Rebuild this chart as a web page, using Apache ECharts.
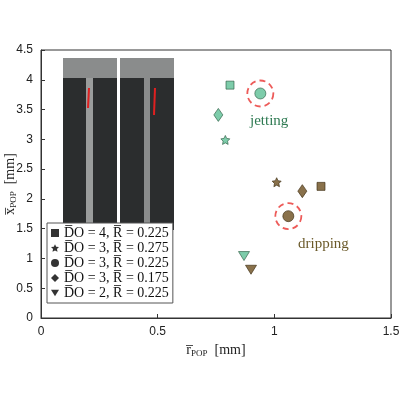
<!DOCTYPE html>
<html><head><meta charset="utf-8">
<script src="https://cdn.jsdelivr.net/npm/echarts@6/dist/echarts.min.js"></script>
<style>html,body{margin:0;background:#fff}#c{width:400px;height:400px}</style>
</head><body><div id="c"></div>
<script>
const seriesNames = ['D̅O = 4, R̅ = 0.225','D̅O = 3, R̅ = 0.275','D̅O = 3, R̅ = 0.225','D̅O = 3, R̅ = 0.175','D̅O = 2, R̅ = 0.225'];
const symbols = ['rect','path://M0,-10L2.9,-4L9.5,-3.1L4.7,1.5L5.9,8.1L0,5L-5.9,8.1L-4.7,1.5L-9.5,-3.1L-2.9,-4Z','circle','diamond','path://M0,0L10,0L5,8Z'];
const symSizes = [[8,8],9,11,[9,13],[11,9]];
const jettingX = [0.81,0.79,0.94,0.76,0.87];
const jettingY = [3.91,2.99,3.77,3.41,1.04];
const drippingX = [1.20,1.01,1.06,1.12,0.90];
const drippingY = [2.21,2.28,1.71,2.13,0.81];
const xTicks = [0,0.5,1,1.5];
const yTicks = [0,0.5,1,1.5,2,2.5,3,3.5,4,4.5];
const green='#5cbf95', brown='#6b4e1e';
const series = seriesNames.map((n,i)=>({
  name:n,type:'scatter',symbol:symbols[i],symbolSize:symSizes[i],
  itemStyle:{color:'#000'},
  data:[
    {value:[jettingX[i],jettingY[i]],itemStyle:{color:green,borderColor:'#2a5a40',borderWidth:0.8}},
    {value:[drippingX[i],drippingY[i]],itemStyle:{color:brown,borderColor:'#3a2a10',borderWidth:0.8}}
  ],z:5
}));
series.push({type:'scatter',symbol:'circle',symbolSize:26,silent:true,
  itemStyle:{color:'none',borderColor:'#e8322f',borderWidth:1.8,borderType:[6,4]},
  data:[[jettingX[2],jettingY[2]],[drippingX[2],drippingY[2]]],z:4});
const font='Liberation Serif';
const rich={a:{fontFamily:font,fontSize:14,fill:'#222',color:'#222'},s:{fontFamily:font,fontSize:9,fill:'#222',color:'#222',padding:[8,0,0,0]}};
const chart=echarts.init(document.getElementById('c'));
chart.setOption({
  animation:false,
  grid:{left:41,right:9,top:50,bottom:82,show:true,borderColor:'#333',borderWidth:1,containLabel:false,outerBoundsMode:'none'},
  xAxis:{type:'value',min:0,max:1.5,interval:0.5,
    axisLine:{lineStyle:{color:'#333'}},axisTick:{inside:true,length:4,lineStyle:{color:'#333'}},
    splitLine:{show:false},
    axisLabel:{color:'#222',fontSize:12,fontFamily:'Liberation Sans',formatter:v=>xTicks.includes(v)?String(v):''},
    name:'{a|r̅}{s|POP}{a|  [mm]}',nameLocation:'middle',nameGap:16,
    nameTextStyle:{rich:rich}},
  yAxis:{type:'value',min:0,max:4.5,interval:0.5,
    axisLine:{lineStyle:{color:'#333'}},axisTick:{inside:true,length:4,lineStyle:{color:'#333'}},
    splitLine:{show:false},
    axisLabel:{color:'#222',fontSize:12,fontFamily:'Liberation Sans',formatter:v=>yTicks.includes(v)?String(v):''}},
  legend:{show:true,orient:'vertical',left:47,top:223,itemGap:1,itemWidth:8,itemHeight:8,
    backgroundColor:'#fff',borderColor:'#555',borderWidth:1,padding:[3,4,3,4],
    textStyle:{fontFamily:font,fontSize:14,color:'#111'},data:seriesNames},
  graphic:[
    {type:'text',x:10,y:184,rotation:Math.PI/2,style:{text:'{a|x̅}{s|POP}{a|  [mm]}',rich:rich,align:'center',verticalAlign:'middle'},z:6},
    {type:'rect',shape:{x:63,y:58,width:54,height:172},style:{fill:'#2b2d2e'},z:1},
    {type:'rect',shape:{x:63,y:58,width:54,height:20},style:{fill:'#8a8c8c'},z:1},
    {type:'rect',shape:{x:120,y:58,width:54,height:172},style:{fill:'#2b2d2e'},z:1},
    {type:'rect',shape:{x:120,y:58,width:54,height:20},style:{fill:'#8a8c8c'},z:1},
    {type:'rect',shape:{x:86,y:78,width:7,height:152},style:{fill:'#9a9c9c'},z:1},
    {type:'rect',shape:{x:144,y:78,width:6,height:152},style:{fill:'#8a8c8c'},z:1},
    {type:'line',shape:{x1:89,y1:88,x2:88,y2:108},style:{stroke:'#e02020',lineWidth:2},z:2},
    {type:'line',shape:{x1:155,y1:88,x2:154,y2:115},style:{stroke:'#e02020',lineWidth:2},z:2},
    {type:'text',x:250,y:114,style:{text:'jetting',font:'15px "Liberation Serif"',fill:'#2e7a52'},z:6},
    {type:'text',x:298,y:237,style:{text:'dripping',font:'15px "Liberation Serif"',fill:'#6b5a2a'},z:6}
  ],
  series:series
});
</script></body></html>
